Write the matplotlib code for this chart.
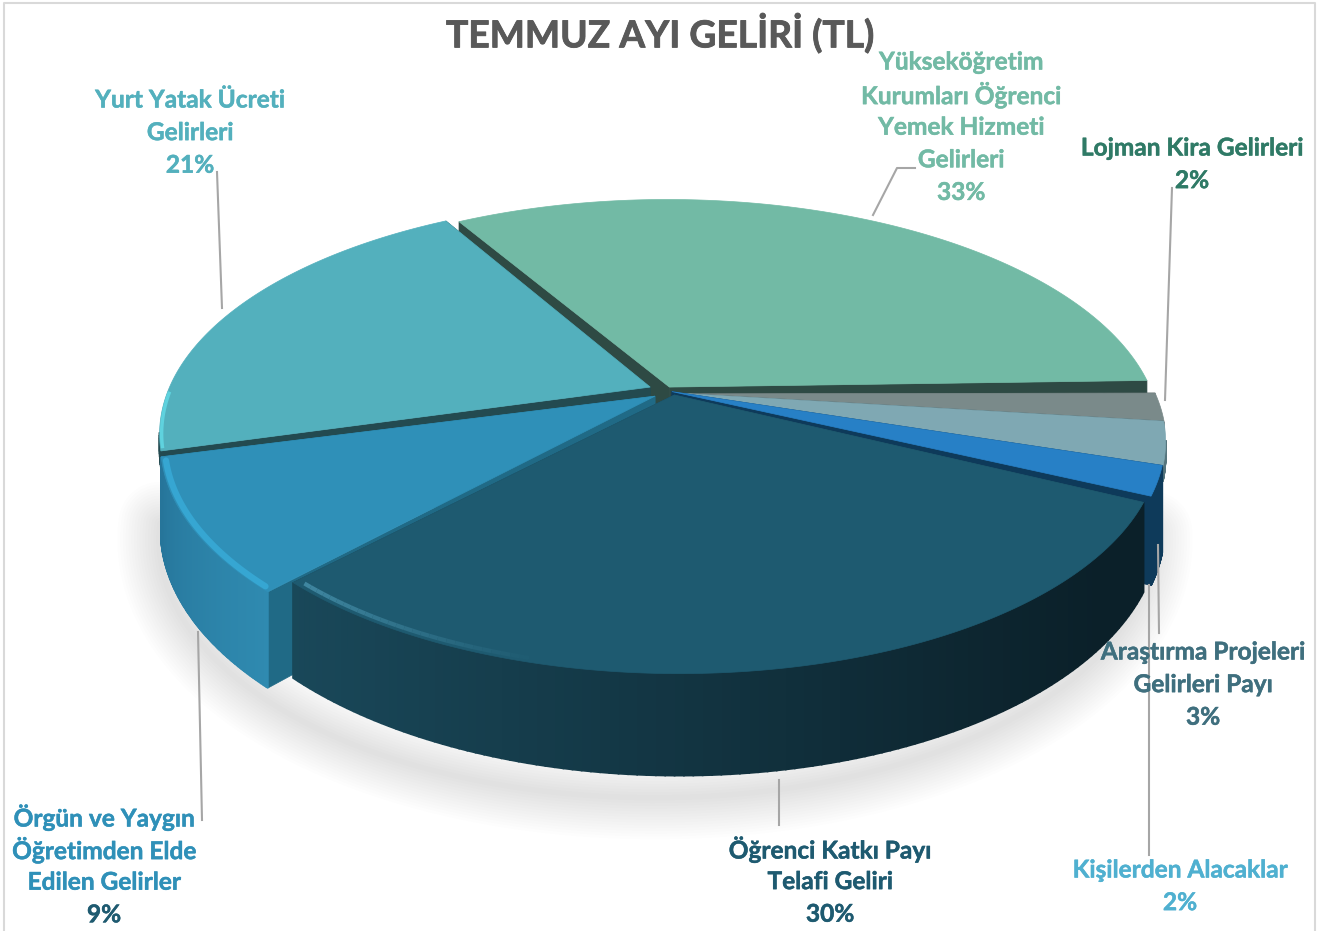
import numpy as np
import matplotlib
matplotlib.use('Agg')
import matplotlib.pyplot as plt
import matplotlib.patheffects as pe
from matplotlib.colors import to_rgb

categories = ['Yükseköğretim\nKurumları Öğrenci\nYemek Hizmeti\nGelirleri', 'Lojman Kira Gelirleri',
              'Araştırma Projeleri\nGelirleri Payı', 'Kişilerden Alacaklar',
              'Öğrenci Katkı Payı\nTelafi Geliri', 'Örgün ve Yaygın\nÖğretimden Elde\nEdilen Gelirler',
              'Yurt Yatak Ücreti\nGelirleri']
shares = [33, 2, 3, 2, 30, 9, 21]

top_colors = ['#72baa5', '#7a8a8a', '#7fa8b3', '#2780c6', '#1e5a70', '#2f90b8', '#53b0bd']
wall_left = ['#2e4a44', '#4f5f5f', '#56757d', '#0e3a5a', '#1a4a5c', '#2f8ab0', '#234a50']
wall_right = ['#2e4a44', '#4f5f5f', '#56757d', '#0e3a5a', '#0b2029', '#26759a', '#234a50']
cut_colors = ['#2e4a44', '#3d4a4a', '#3d4a4a', '#0e3a5a', '#17475a', '#206a86', '#234a50']
text_colors = ['#72baa5', '#2f7a66', '#3f6f7e', '#4fb0d0', '#1e5a70', '#2f90b8', '#53b0bd']
pct_colors = ['#72baa5', '#2f7a66', '#3f6f7e', '#4fb0d0', '#1e5a70', '#1e5a70', '#53b0bd']

# slice shift on the pie plane, (right, towards viewer), small turn in degrees, radius
offsets = [(0.03, -0.035), (0.035, -0.005), (0.035, -0.01), (0.035, -0.015), (0.04, 0.0), (0.0, 0.005), (-0.01, -0.035)]
spin = [-1.5, 0, 0, 0, 1.0, 0, -1.0]
radii = [1.0, 1.0, 1.0, 1.0, 0.982, 1.0, 1.0]
label_x = [961, 1192, 1203, 1180, 830, 104, 190]
label_y = [62, 148, 652, 870, 849, 817, 100]
leaders = [[(873, 215), (897, 168), (915, 168)], [(1172, 188), (1165, 400)], [(1159, 633), (1158, 545)],
           [(1149, 855), (1149, 585)], [(779, 825), (779, 780)], [(202, 820), (198, 632)], [(217, 172), (222, 308)]]

START = -29.0
DEPTH = 82.0
# back slices only show a thin edge
wall_depth = [DEPTH, 14.0, 14.0, DEPTH, DEPTH, DEPTH, 16.0]
CX, CY, B, A, K = 655.0, 395.0, 484.0, 228.0, 0.2

def project(u, v, z=0.0):
  # disk coords to picture pixels, simple perspective
  w = 1 - K * v
  return CX + B * u / w, CY + (A * v + z) / w

def mix(c1, c2, t):
  c1, c2 = np.array(to_rgb(c1)), np.array(to_rgb(c2))
  return tuple(c1 + (c2 - c1) * t)

def arc(t0, t1, off, z=0.0, n=120, r=1.0):
  t = np.radians(np.linspace(t0, t1, n))
  return project(r * np.sin(t) + off[0], -r * np.cos(t) + off[1], z)

plt.rcParams['font.family'] = ['Lato', 'DejaVu Sans']
fig = plt.figure(figsize=(13.17, 9.31), dpi=100)
ax = fig.add_axes([0, 0, 1, 1])
ax.set_xlim(0, 1317)
ax.set_ylim(931, 0)
ax.axis('off')

# frame
ax.plot([4, 4, 1315, 1315], [931, 3, 3, 931], color='#d9d9d9', lw=1.5)

# angle limits of each slice
edges = START + np.concatenate([[0], np.cumsum(shares)]) * 360.0 / sum(shares)

# soft shadow under the pie
sx, sy = arc(100, 262, (0.0, 0.02), DEPTH + 6)
for lw in np.arange(60, 2, -4):
  ax.plot(sx, sy, color='black', alpha=0.006, lw=lw, solid_capstyle='round', zorder=0)

# back to front
order = [0, 6, 1, 2, 3, 5, 4]
for i in order:
  t0, t1, off = edges[i] + spin[i], edges[i + 1] + spin[i], offsets[i]
  d = wall_depth[i]
  apex = project(off[0], off[1])
  apex_low = project(off[0], off[1], d)
  x, y = arc(t0, t1, off, r=radii[i])
  xl, yl = arc(t0, t1, off, d, r=radii[i])
  angles = np.radians(np.linspace(t0, t1, len(x)))
  # cut faces
  ax.fill([apex[0], x[0], xl[0], apex_low[0]], [apex[1], y[0], yl[0], apex_low[1]], color=cut_colors[i], lw=0.5)
  ax.fill([apex[0], x[-1], xl[-1], apex_low[0]], [apex[1], y[-1], yl[-1], apex_low[1]], color=cut_colors[i], lw=0.5)
  # outer wall, gradient along x, back part stays hidden
  for j in range(len(x) - 1):
    if -np.cos(angles[j]) < K:
      continue
    t = np.clip((x[j] - 250) / 850, 0, 1) if i == 4 else j / (len(x) - 1)
    ax.fill([x[j], x[j + 1], xl[j + 1], xl[j]], [y[j], y[j + 1], yl[j + 1], yl[j]],
            color=mix(wall_left[i], wall_right[i], t), lw=1.2)
  # top face
  ax.fill(np.r_[apex[0], x], np.r_[apex[1], y], color=top_colors[i], lw=0.5)

# light rim on the front edges
rx, ry = arc(edges[5] + 1, edges[6] - 1, offsets[5], r=0.992)
ax.plot(rx, ry, color='#36a6d2', lw=4.5, solid_capstyle='round')
rx, ry = arc(edges[6] + spin[6] + 1, edges[6] + spin[6] + 14, offsets[6], r=0.996)
ax.plot(rx, ry, color='#5fd2de', lw=2.5)
t_rim = np.linspace(edges[5] + spin[4] - 1, edges[5] + spin[4] - 30, 30)
for j in range(len(t_rim) - 1):
  rx, ry = arc(t_rim[j], t_rim[j + 1], offsets[4], n=3, r=radii[4] - 0.012)
  ax.plot(rx, ry, color=mix('#3f86a0', '#1e5a70', j / 28), lw=3, solid_capstyle='butt')

for pts in leaders:
  ax.plot([p[0] for p in pts], [p[1] for p in pts], color='#a6a6a6', lw=1.5, zorder=5)

ax.text(660, 34, 'TEMMUZ AYI GELİRİ (TL)', ha='center', va='center', fontsize=26.8, fontweight='bold', color='#595959',
        path_effects=[pe.withStroke(linewidth=0.6, foreground='#595959')])

LINE = 32.6
for i, name in enumerate(categories):
  lines = name.split('\n')
  stroke = [pe.withStroke(linewidth=0.35, foreground=text_colors[i])]
  for j, line in enumerate(lines):
    ax.text(label_x[i], label_y[i] + j * LINE, line, ha='center', va='center', fontsize=17.6, fontweight='bold',
            color=text_colors[i], zorder=6, path_effects=stroke)
  stroke = [pe.withStroke(linewidth=0.35, foreground=pct_colors[i])]
  ax.text(label_x[i], label_y[i] + len(lines) * LINE, f'{shares[i]}%', ha='center', va='center', fontsize=17.6,
          fontweight='bold', color=pct_colors[i], zorder=6, path_effects=stroke)

fig.savefig('out.png', dpi=100)
